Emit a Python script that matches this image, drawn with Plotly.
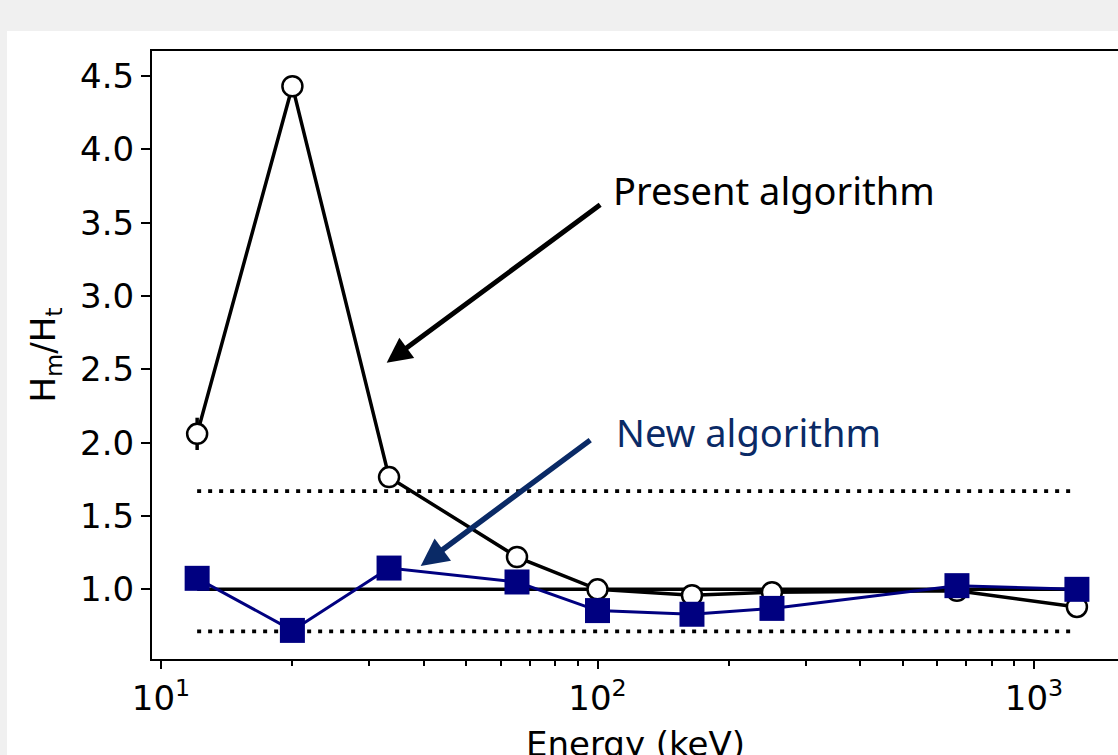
import plotly.graph_objects as go

# ---- data ----
energy_keV = [12.1, 20.0, 33.3, 65.4, 100.0, 164.6, 251.0, 666.0, 1254.0]
present_ratio = [2.06, 4.43, 1.765, 1.22, 1.00, 0.96, 0.98, 0.99, 0.88]
present_err = [0.11, 0, 0, 0, 0, 0, 0, 0, 0]
new_ratio = [1.075, 0.72, 1.145, 1.05, 0.855, 0.83, 0.87, 1.025, 1.00]
unity_level = 1.0
upper_limit = 1.67
lower_limit = 0.713
limit_x = [energy_keV[0], energy_keV[-1]]

major_ticks = [10, 100, 1000]
major_labels = ["10<sup>1</sup>", "10<sup>2</sup>", "10<sup>3</sup>"]
minor_ticks = [m * d for d in (10, 100) for m in range(2, 10)] + [2000, 3000]

BLACK = "#000000"
NAVY = "#000080"
TEXT_BLUE = "#0a2a66"
TICK_FONT = dict(family="DejaVu Sans", size=34, color=BLACK)

fig = go.Figure()

# unity reference line
fig.add_trace(go.Scatter(x=limit_x, y=[unity_level, unity_level], mode="lines",
                         line=dict(color=BLACK, width=3.5), showlegend=False, hoverinfo="skip"))
# dotted limits
for lvl in (upper_limit, lower_limit):
    fig.add_trace(go.Scatter(x=limit_x, y=[lvl, lvl], mode="lines",
                             line=dict(color=BLACK, width=3.8, dash="4px,7px"),
                             showlegend=False, hoverinfo="skip"))

# present algorithm
fig.add_trace(go.Scatter(
    x=energy_keV, y=present_ratio, mode="lines+markers", name="Present algorithm",
    line=dict(color=BLACK, width=3.5),
    marker=dict(symbol="circle", size=20, color="white", line=dict(color=BLACK, width=2.5)),
    error_y=dict(type="data", array=present_err, visible=True, color=BLACK, thickness=3.5, width=0),
    showlegend=False))

# new algorithm
fig.add_trace(go.Scatter(
    x=energy_keV, y=new_ratio, mode="lines+markers", name="New algorithm",
    line=dict(color=NAVY, width=3),
    marker=dict(symbol="square", size=25, color=NAVY, line=dict(width=0)),
    showlegend=False))

# background white panel
fig.add_shape(type="rect", xref="paper", yref="paper", x0=-0.1501, x1=1.05, y0=-0.3, y1=1.0329,
              fillcolor="white", line=dict(width=0), layer="below")

# annotations
fig.add_annotation(x=1.517, y=2.545, xref="x", yref="y", ax=215, ay=-159,
                   text="", showarrow=True, arrowhead=2, arrowsize=1, arrowwidth=5,
                   arrowcolor=BLACK)
fig.add_annotation(x=1.595, y=1.159, xref="x", yref="y", ax=171, ay=-127,
                   text="", showarrow=True, arrowhead=2, arrowsize=1, arrowwidth=5.5,
                   arrowcolor=TEXT_BLUE)
fig.add_annotation(x=2.030, y=3.72, xref="x", yref="y", text="Present algorithm",
                   showarrow=False, xanchor="left", yanchor="middle",
                   font=dict(family="Noto Sans", size=38, color=BLACK))
fig.add_annotation(x=2.038, y=2.07, xref="x", yref="y", text="New algorithm",
                   showarrow=False, xanchor="left", yanchor="middle",
                   font=dict(family="Noto Sans", size=38, color=TEXT_BLUE))
# x-axis title (placed below the tick labels, partly cut by the page edge as in the reference)
fig.add_annotation(x=0.5, y=-0.103, xref="paper", yref="paper", text="Energy (keV)",
                   showarrow=False, xanchor="center", yanchor="top", font=TICK_FONT)

fig.update_xaxes(type="log", range=[0.97938, 3.19244], automargin=False,
                 tickmode="array", tickvals=major_ticks, ticktext=major_labels,
                 ticks="outside", ticklen=8, tickwidth=2, tickcolor=BLACK,
                 tickfont=TICK_FONT, showline=True, linecolor=BLACK, linewidth=2,
                 mirror=True, showgrid=False, zeroline=False,
                 minor=dict(tickmode="array", tickvals=minor_ticks, ticks="outside",
                            ticklen=5, tickwidth=1.5, tickcolor=BLACK, showgrid=False))
fig.update_yaxes(range=[0.525, 4.670], automargin=False, tickmode="array",
                 tickvals=[1.0, 1.5, 2.0, 2.5, 3.0, 3.5, 4.0, 4.5],
                 ticktext=["1.0", "1.5", "2.0", "2.5", "3.0", "3.5", "4.0", "4.5"],
                 ticks="outside", ticklen=9, tickwidth=2, tickcolor=BLACK,
                 tickfont=TICK_FONT, showline=True, linecolor=BLACK, linewidth=2,
                 mirror=False, showgrid=False, zeroline=False,
                 title=dict(text="H<sub>m</sub>/H<sub>t</sub>", font=TICK_FONT, standoff=14))

fig.update_layout(width=1118, height=755, margin=dict(l=152, r=0, t=51, b=96),
                  paper_bgcolor="#f0f0f0", plot_bgcolor="white", showlegend=False)

fig.write_html("out.html")
